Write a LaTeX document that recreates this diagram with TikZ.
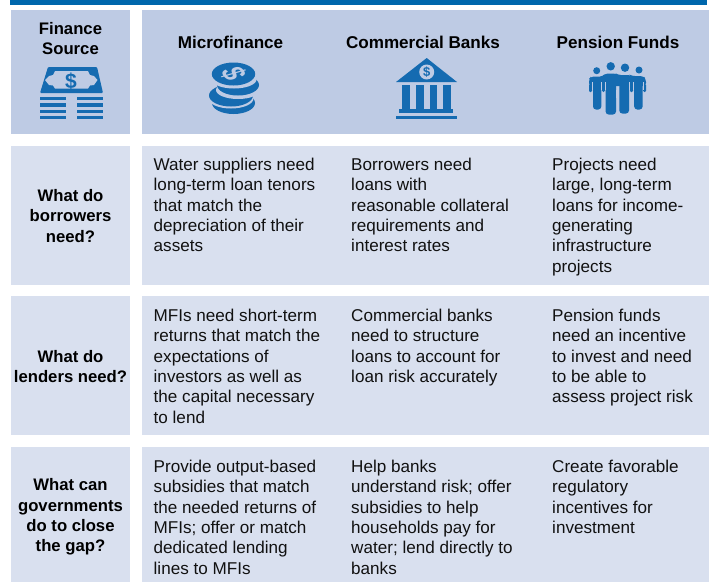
\documentclass[tikz,border=0pt]{standalone}
\usepackage{fontspec}
\setmainfont{Liberation Sans}
\definecolor{headbg}{HTML}{BECBE4}
\definecolor{rowbg}{HTML}{D9E0EF}
\definecolor{barblue}{HTML}{0067AC}
\definecolor{iconblue}{HTML}{156BB1}
\definecolor{txt}{HTML}{111111}
\tikzset{
 x=1pt,y=-1pt,
 head/.style={fill=headbg,draw=none},
 rowbox/.style={fill=rowbg,draw=none},
 body/.style={anchor=north west,inner sep=0pt,align=left,text=txt,font=\fontsize{17.1}{20.3}\selectfont},
 title/.style={anchor=center,inner sep=0pt,align=center,text=black,font=\fontsize{17.1}{20.3}\selectfont\bfseries},
 sidetitle/.style={title,font=\fontsize{16.7}{20.3}\selectfont\bfseries},
 icon/.style={fill=iconblue,draw=none},
 iconcut/.style={fill=headbg,draw=none},
 limb/.style={fill=iconblue,draw=none,rounded corners=1.2pt},
 leg/.style={fill=iconblue,draw=none,rounded corners=3pt},
}
\begin{document}
\begin{tikzpicture}
\useasboundingbox (0,0) rectangle (709,582);
\fill[barblue] (10,0) rectangle (707,5);
% backgrounds
\fill[head] (11,10) rectangle (130,134);
\fill[head] (142,10) rectangle (709,134);
\fill[rowbox] (11,146) rectangle (130,285);
\fill[rowbox] (142,146) rectangle (709,285);
\fill[rowbox] (11,296) rectangle (130,435);
\fill[rowbox] (142,296) rectangle (709,435);
\fill[rowbox] (11,447) rectangle (130,582);
\fill[rowbox] (142,447) rectangle (709,582);
% titles
\node[sidetitle] (tsrc) at (70.5,38.5) {Finance\\Source};
\node[title] (tmf) at (230.5,42) {Microfinance};
\node[title] (tcb) at (423,42) {Commercial Banks};
\node[title] (tpf) at (618,42) {Pension Funds};
\node[sidetitle] (r1) at (70.5,216) {What do\\borrowers\\need?};
\node[sidetitle] (r2) at (70.5,366.5) {What do\\lenders need?};
\node[sidetitle] (r3) at (70.5,517) {What can\\governments\\do to close\\the gap?};
% body
\node[body] (a1) at (153.5,158) {Water suppliers need\\long-term loan tenors\\that match the\\depreciation of their\\assets};
\node[body] (b1) at (351,158) {Borrowers need\\loans with\\reasonable collateral\\requirements and\\interest rates};
\node[body] (c1) at (552,158) {Projects need\\large, long-term\\loans for income-\\generating\\infrastructure\\projects};
\node[body] (a2) at (153.5,309) {MFIs need short-term\\returns that match the\\expectations of\\investors as well as\\the capital necessary\\to lend};
\node[body] (b2) at (351,309) {Commercial banks\\need to structure\\loans to account for\\loan risk accurately};
\node[body] (c2) at (552,309) {Pension funds\\need an incentive\\to invest and need\\to be able to\\assess project risk};
\node[body] (a3) at (153.5,460) {Provide output-based\\subsidies that match\\the needed returns of\\MFIs; offer or match\\dedicated lending\\lines to MFIs};
\node[body] (b3) at (351,460) {Help banks\\understand risk; offer\\subsidies to help\\households pay for\\water; lend directly to\\banks};
\node[body] (c3) at (552,460) {Create favorable\\regulatory\\incentives for\\investment};
% money icon
\fill[icon,rounded corners=1pt] (40,93) -- (48,67) -- (97,67) -- (103,93) -- cycle;
\fill[iconcut] (45,80) -- (49,76) -- (53,75) -- (55,71) -- (88,71) -- (90,75) -- (94,76) -- (97.5,80) -- (94,85) -- (90,85.5) -- (88,88.5) -- (55,88.5) -- (53,85.5) -- (49,85) -- cycle;
\node[inner sep=0pt,text=iconblue,font=\fontsize{21}{21}\selectfont\bfseries] (dol1) at (71,81) {\$};
\foreach \y in {96.5,103,109.5,115.5}{
 \fill[icon] (40,\y) rectangle (66,\y+3.8);
 \fill[icon] (76.5,\y) rectangle (103,\y+3.8);
}
% coin icon
\fill[icon] (233.5,103) ellipse [x radius=21.5,y radius=11];
\fill[iconcut] (231,98.5) ellipse [x radius=22.5,y radius=10];
\fill[icon] (231,95.5) ellipse [x radius=22,y radius=11];
\fill[iconcut] (238,90) ellipse [x radius=22,y radius=9];
\fill[icon] (238,85) ellipse [x radius=21,y radius=10.5];
\fill[iconcut] (234,79.5) ellipse [x radius=22.5,y radius=9];
\fill[icon] (233.5,74) ellipse [x radius=21.7,y radius=11.5];
\begin{scope}[shift={(233.5,74)},yscale=.62,rotate=-65]
\node[transform shape,inner sep=0pt,text=headbg,font=\fontsize{33}{33}\selectfont\bfseries] (dol2) at (0,0) {\$};
\end{scope}
% bank icon
\fill[icon] (396,82) -- (426.7,58) -- (457,82) -- cycle;
\fill[headbg] (426.7,72) circle (7.5);
\node[inner sep=0pt,text=iconblue,font=\fontsize{13}{13}\selectfont\bfseries] (dol3) at (426.7,72) {\$};
\foreach \xa/\xb in {402/410,416/423.5,429.5/437,443/451}{\fill[icon] (\xa,85) rectangle (\xb,110);}
\fill[icon] (399,109) rectangle (453,113);
\fill[icon] (396,115.5) rectangle (457,119);
% people icon
\fill[icon] (596.7,70.7) circle (3.5);
\fill[icon] (610.7,66.3) circle (4.2);
\fill[icon] (625,67.7) circle (4.2);
\fill[icon] (639,70) circle (3.5);
\fill[limb,rounded corners=3pt] (589,86) -- (589,79) -- (591,76.5) -- (603,76.5) -- (605,73.5) -- (616,73.5) -- (618,75) -- (630,75) -- (632,76) -- (643,76) -- (646,79) -- (646,86) -- cycle;
% arms
\fill[limb] (589,84) rectangle (592,92);
\fill[limb] (602.2,80) rectangle (604.8,92);
\fill[limb] (630,80) rectangle (633,92);
\fill[limb] (643.2,84) rectangle (646,92);
% legs
\fill[leg] (593,82) rectangle (601.3,109.5);
\fill[leg] (605.6,82) rectangle (616,114.5);
\fill[leg] (619.3,82) rectangle (629,113.5);
\fill[leg] (634.2,82) rectangle (642.6,109.5);
% gaps
\foreach \xa/\xb/\ya in {592/593/82,601.3/602.2/82,604.8/605.6/82,616/619.3/90,629/630/82,633/634.2/82,642.6/643.2/82}{
 \fill[iconcut] (\xa,\ya) rectangle (\xb,\ya+8);
}
\end{tikzpicture}
\end{document}
